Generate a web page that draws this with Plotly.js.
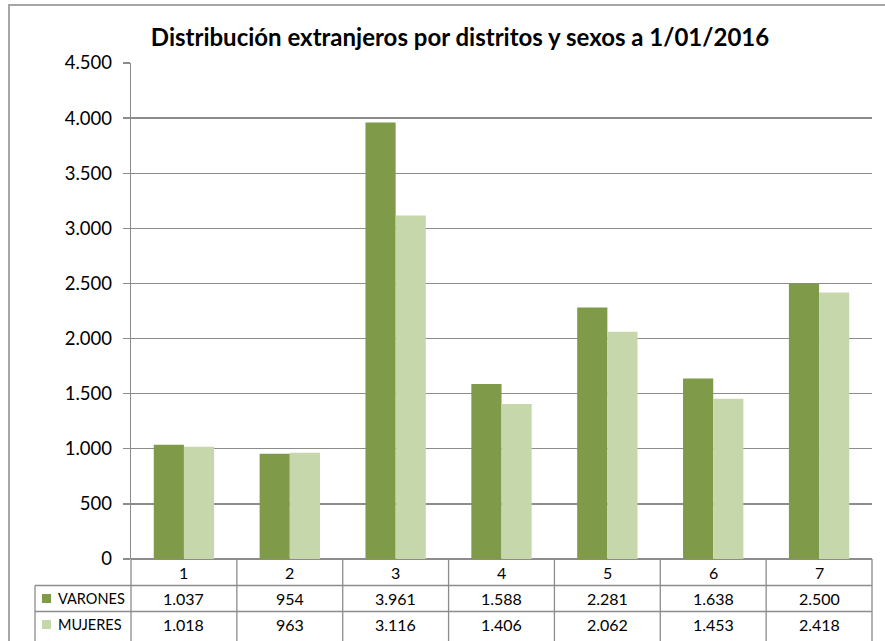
<!DOCTYPE html>
<html><head><meta charset="utf-8">
<script src="https://cdn.plot.ly/plotly-3.0.1.min.js"></script>
<style>html,body{margin:0;padding:0;background:#fff}#chart{width:885px;height:641px}</style>
</head><body><div id="chart"></div>
<script>
const districts = ['1','2','3','4','5','6','7'];
const varones = [1037, 954, 3961, 1588, 2281, 1638, 2500];
const mujeres = [1018, 963, 3116, 1406, 2062, 1453, 2418];
const seriesNames = ['VARONES', 'MUJERES'];
const yTicks = [0,500,1000,1500,2000,2500,3000,3500,4000,4500];

const colV = '#7f9a48', colM = '#c6d7ab';
const lineCol = '#8c8c8c';
const FONT = 'Lato, "Open Sans", sans-serif';

function fmt(n){ return String(n).replace(/\B(?=(\d{3})+(?!\d))/g, '.'); }

const W = 885, H = 641, L = 131, R = 13, T = 63, B = 82;
const pw = W - L - R, ph = H - T - B;
const px = p => (p - L) / pw;       // pixel x -> paper
const py = p => (H - B - p) / ph;   // pixel y -> paper

const rowY = [py(572.5), py(598.5), py(624.5)];
const tf = {family:FONT,size:16,color:'#000'};
const lf = {family:FONT,size:14.5,color:'#000'};

const traces = [
  {type:'bar', x:districts, y:varones, name:seriesNames[0], marker:{color:colV}},
  {type:'bar', x:districts, y:mujeres, name:seriesNames[1], marker:{color:colM}}
];

const annotations = [];
const shapes = [];
districts.forEach((d,i)=>{
  annotations.push({xref:'x', yref:'paper', x:i, y:rowY[0], yanchor:'middle', xanchor:'center', text:d, showarrow:false, font:tf});
  annotations.push({xref:'x', yref:'paper', x:i, y:rowY[1], yanchor:'middle', xanchor:'center', text:fmt(varones[i]), showarrow:false, font:tf});
  annotations.push({xref:'x', yref:'paper', x:i, y:rowY[2], yanchor:'middle', xanchor:'center', text:fmt(mujeres[i]), showarrow:false, font:tf});
});
[[seriesNames[0], colV, rowY[1]], [seriesNames[1], colM, rowY[2]]].forEach(([nm,c,y])=>{
  annotations.push({xref:'paper', yref:'paper', x:px(56), y:y, xanchor:'left', yanchor:'middle', text:nm, showarrow:false, font:lf});
  shapes.push({type:'rect', xref:'paper', yref:'paper', x0:px(42), x1:px(51), y0:y-4.5/ph, y1:y+4.5/ph, fillcolor:c, line:{width:0}});
});

// table lines
const n = districts.length;
for (let k=0;k<=n;k++){
  const xp = k/n;
  shapes.push({type:'line', xref:'paper', yref:'paper', x0:xp, x1:xp, y0:0, y1:py(650), line:{color:lineCol,width:1.3}});
}
shapes.push({type:'line', xref:'paper', yref:'paper', x0:px(35), x1:px(35), y0:py(585.5), y1:py(650), line:{color:lineCol,width:1.3}});
[585.5, 611.5].forEach(p=>{
  shapes.push({type:'line', xref:'paper', yref:'paper', x0:px(35), x1:1, y0:py(p), y1:py(p), line:{color:lineCol,width:1.3}});
});
// outer chart border
shapes.push({type:'rect', xref:'paper', yref:'paper', x0:px(9), x1:px(900), y0:py(5), y1:py(660), line:{color:'#a6a6a6',width:2}, fillcolor:'rgba(0,0,0,0)'});

const layout = {
  width:W, height:H,
  margin:{l:L, r:R, t:T, b:B, pad:0},
  paper_bgcolor:'#fff', plot_bgcolor:'#fff',
  separators:',.',
  showlegend:false,
  barmode:'group', bargap:0.43, bargroupgap:0,
  title:{text:'<b>Distribución extranjeros por distritos y sexos a 1/01/2016</b>', x:460/W, xanchor:'center', xref:'container', y:1-38/H, yanchor:'middle', yref:'container', font:{family:FONT,size:24,color:'#000'}},
  xaxis:{type:'category', range:[-0.5,6.5], showticklabels:false, ticks:'', showgrid:false, showline:false, zeroline:false, fixedrange:true},
  yaxis:{range:[0,4500], tickvals:yTicks, ticktext:yTicks.map(fmt), ticks:'outside', ticklen:7, tickcolor:lineCol, tickwidth:1.3,
    showgrid:true, gridcolor:lineCol, gridwidth:1.3, showline:true, linecolor:lineCol, linewidth:1.3, zeroline:true, zerolinecolor:lineCol, zerolinewidth:1.3,
    tickfont:{family:FONT,size:18.5,color:'#000'}, ticklabelstandoff:7, fixedrange:true},
  annotations:annotations, shapes:shapes
};
Plotly.newPlot('chart', traces, layout, {displayModeBar:false, staticPlot:true});
</script></body></html>
